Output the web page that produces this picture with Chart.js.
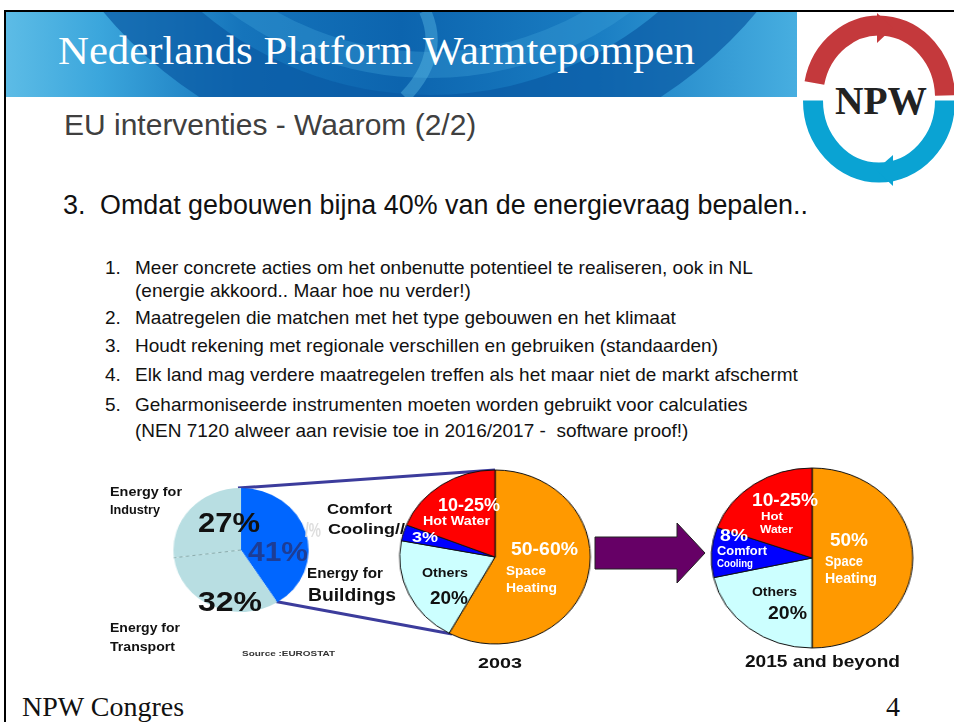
<!DOCTYPE html>
<html>
<head>
<meta charset="utf-8">
<script src="https://cdn.jsdelivr.net/npm/chart.js@4.4.0/dist/chart.umd.min.js"></script>
<style>
html, body { margin: 0; padding: 0; background: #fff; }
#slide { position: relative; width: 954px; height: 722px; overflow: hidden; background: #fff; font-family: "Liberation Sans", Arial, sans-serif; }
.t { position: absolute; white-space: pre; transform-origin: 0 50%; }
.pie { position: absolute; transform-origin: 50% 50%; }
svg { position: absolute; left: 0; top: 0; }
</style>
</head>
<body>
<div id="slide">
<svg width="954" height="722">
  <defs>
    <linearGradient id="bg" x1="0" x2="1" y1="0" y2="0">
      <stop offset="0" stop-color="#5dbce6"/>
      <stop offset="0.12" stop-color="#3ba6dc"/>
      <stop offset="0.3" stop-color="#1574bb"/>
      <stop offset="0.5" stop-color="#0c64ae"/>
      <stop offset="0.75" stop-color="#1a7ec3"/>
      <stop offset="1" stop-color="#47aee0"/>
    </linearGradient>
    <clipPath id="bc"><rect x="5" y="11" width="792" height="86"/></clipPath>
  </defs>
  <rect x="5" y="11" width="792" height="86" fill="url(#bg)"/>
  <g clip-path="url(#bc)">
    <circle cx="430" cy="-260" r="390" fill="none" stroke="#0a5aa4" stroke-width="70" opacity="0.7"/>
    <circle cx="430" cy="-260" r="325" fill="none" stroke="#3fa3da" stroke-width="26" opacity="0.35"/>
    <path d="M 425 11 Q 445 55 405 97" stroke="#56b5e3" stroke-width="12" fill="none" opacity="0.45"/>
  </g>
  <line x1="4" y1="11" x2="954" y2="11" stroke="#000" stroke-width="2"/>
  <line x1="5" y1="10" x2="5" y2="722" stroke="#000" stroke-width="2"/>

  <!-- logo -->
  <path d="M 814.4 83 A 66 72 0 0 1 945 95.5" stroke="#c4393c" stroke-width="20" fill="none"/>
  <polygon points="877,43 877,13 893,28" fill="#c4393c"/>
  <path d="M 945 100.5 A 66 72 0 0 1 813 100.5" stroke="#0aa3d3" stroke-width="20" fill="none"/>
  <polygon points="893,155 893,186 876,170" fill="#0aa3d3"/>

  <!-- connectors and arrow -->
  <line x1="238" y1="488" x2="495" y2="470" stroke="#3c3c9c" stroke-width="3"/>
  <line x1="273" y1="601" x2="452" y2="634" stroke="#3c3c9c" stroke-width="3"/>
  <polygon points="595,537 677,537 677,523 705,553 677,583 677,569 595,569" fill="#660066" stroke="#222" stroke-width="1"/>
</svg>

<div class="pie" id="wL"><canvas id="pieSector"></canvas></div>
<div class="pie" id="wM"><canvas id="pie2003"></canvas></div>
<div class="pie" id="wR"><canvas id="pie2015"></canvas></div>
</div>

<script>
// energy use per sector (%)
const sectorLabels = ['Buildings', 'Transport', 'Industry'];
const sectorShare = [41, 32, 27];

// building energy use split (%), clockwise from 12 o'clock
const useLabels = ['Space Heating', 'Others', 'Comfort Cooling', 'Hot Water'];
const use2003 = [58, 20, 3, 19];
const use2015 = [50, 21.5, 9, 19.5];

const slide = document.getElementById('slide');

function txt(s, x, base, size, o) {
  o = o || {};
  const el = document.createElement('div');
  el.className = 't';
  el.textContent = s;
  el.style.left = x + 'px';
  el.style.fontSize = size + 'px';
  el.style.lineHeight = size + 'px';
  el.style.top = (base - size * (o.serif ? 0.8375 : 0.8465)) + 'px';
  el.style.color = o.color || '#111';
  if (o.serif) el.style.fontFamily = '"Liberation Serif", "Times New Roman", serif';
  if (o.bold) el.style.fontWeight = 'bold';
  slide.appendChild(el);
  if (o.w) {
    const nat = el.getBoundingClientRect().width;
    el.style.transform = 'scaleX(' + (o.w / nat) + ')';
  }
  return el;
}

// pie label, y given as caps centre
function lab(s, x, cy, size, w, color) {
  return txt(s, x, cy + size * 0.36, size, { bold: true, w: w, color: color || '#fff' });
}

// header and body
txt('Nederlands Platform Warmtepompen', 58, 64, 39, { serif: true, color: '#fff', w: 637 });
txt('NPW', 835, 114, 40, { serif: true, bold: true, color: '#222', w: 92 });
txt('EU interventies - Waarom (2/2)', 64, 135, 30, { color: '#404040' });
txt('3.', 63, 215, 27);
txt('Omdat gebouwen bijna 40% van de energievraag bepalen..', 100, 215, 27, { w: 708 });

const items = [
  ['1.', 'Meer concrete acties om het onbenutte potentieel te realiseren, ook in NL', 274],
  ['', '(energie akkoord.. Maar hoe nu verder!)', 297],
  ['2.', 'Maatregelen die matchen met het type gebouwen en het klimaat', 324],
  ['3.', 'Houdt rekening met regionale verschillen en gebruiken (standaarden)', 352],
  ['4.', 'Elk land mag verdere maatregelen treffen als het maar niet de markt afschermt', 381],
  ['5.', 'Geharmoniseerde instrumenten moeten worden gebruikt voor calculaties', 411],
  ['', '(NEN 7120 alweer aan revisie toe in 2016/2017 -  software proof!)', 437]
];
items.forEach(function (it) {
  if (it[0]) txt(it[0], 105, it[2], 19);
  txt(it[1], 135, it[2], 19);
});

txt('NPW Congres', 22, 716, 28, { serif: true });
txt('4', 886, 716, 28, { serif: true });

// pies
const dashDivider = {
  id: 'dashDivider',
  afterDatasetsDraw(chart, args, o) {
    if (o.index == null) return;
    const arc = chart.getDatasetMeta(0).data[o.index];
    const p = arc.getProps(['x', 'y', 'outerRadius', 'startAngle'], true);
    const ctx = chart.ctx;
    ctx.save();
    ctx.setLineDash(o.dash || [3, 3]);
    ctx.strokeStyle = o.color;
    ctx.lineWidth = 1;
    ctx.beginPath();
    ctx.moveTo(p.x, p.y);
    ctx.lineTo(p.x + Math.cos(p.startAngle) * p.outerRadius, p.y + Math.sin(p.startAngle) * p.outerRadius);
    ctx.stroke();
    ctx.restore();
  }
};

function pie(id, wrap, cx, cy, r, sx, labels, values, colors, border, divider) {
  const w = document.getElementById(wrap);
  const size = 2 * r + 6;
  const c = document.getElementById(id);
  c.width = size; c.height = size;
  w.style.left = (cx - size / 2) + 'px';
  w.style.top = (cy - size / 2) + 'px';
  w.style.width = size + 'px';
  w.style.height = size + 'px';
  w.style.transform = 'scaleX(' + sx + ')';
  return new Chart(c, {
    type: 'pie',
    data: {
      labels: labels,
      datasets: [{
        data: values,
        backgroundColor: colors,
        borderColor: border ? border : 'rgba(0,0,0,0)',
        borderWidth: border ? 1 : 0,
        radius: r
      }]
    },
    options: {
      responsive: false,
      animation: false,
      events: [],
      layout: { padding: 0 },
      plugins: {
        legend: { display: false },
        tooltip: { enabled: false },
        dashDivider: divider || {}
      }
    },
    plugins: [dashDivider]
  });
}

pie('pieSector', 'wL', 240.5, 550, 62, 1.09, sectorLabels, sectorShare,
  ['#0066ff', '#b8dee2', '#b8dee2'], null, { index: 2, color: '#8aa' });
pie('pie2003', 'wM', 495, 556.5, 87, 1.095, useLabels, use2003,
  ['#ff9900', '#ccffff', '#0000ff', '#ff0000'], '#111');
pie('pie2015', 'wR', 812, 557.5, 90, 1.12, useLabels, use2015,
  ['#ff9900', '#ccffff', '#0000ff', '#ff0000'], '#111');

// left pie labels
lab('Energy for', 110, 492, 12, 72, '#111');
lab('Industry', 110, 510, 12, 50, '#111');
lab('Energy for', 110, 628, 12, 70, '#111');
lab('Transport', 110, 647, 12, 65, '#111');
lab(sectorShare[2] + '%', 198, 523, 27, 62, '#111');
lab(sectorShare[0] + '%', 248, 552, 27, 60, '#1d3d96');
lab(sectorShare[1] + '%', 198, 602, 27, 64, '#111');
lab('/%', 305, 530, 20, 16, '#dedede');
lab('Energy for', 307, 573, 14, 76, '#111');
lab('Buildings', 308, 594, 19, 88, '#111');
lab('Comfort', 327, 508, 15, 65, '#111');
lab('Cooling//', 328, 528, 15, 77, '#111');
lab('Source :EUROSTAT', 242, 654, 8, 93, '#333');

// 2003 pie labels
lab('10-25%', 438, 504, 19, 62);
lab('Hot Water', 423, 521, 12, 67);
lab('3%', 412, 536, 15, 26);
lab('50-60%', 511, 548, 19, 67);
lab('Space', 506, 570, 13, 40);
lab('Heating', 506, 587, 13, 51);
lab('Others', 422, 572, 13, 46, '#111');
lab('20%', 430, 597, 19, 38, '#111');
lab('2003', 478, 662, 15, 44, '#111');

// 2015 pie labels
lab('10-25%', 752, 499, 19, 66);
lab('Hot', 761, 516, 11, 22);
lab('Water', 760, 529, 11, 33);
lab('8%', 720, 535, 17, 28);
lab('Comfort', 717, 551, 12, 50);
lab('Cooling', 717, 564, 10, 36);
lab('50%', 830, 539, 19, 38);
lab('Space', 825, 561, 14, 38);
lab('Heating', 825, 578, 14, 52);
lab('Others', 752, 591, 13, 45, '#111');
lab('20%', 768, 613, 18, 39, '#111');
lab('2015 and beyond', 745, 662, 16, 155, '#111');
</script>
</body>
</html>
